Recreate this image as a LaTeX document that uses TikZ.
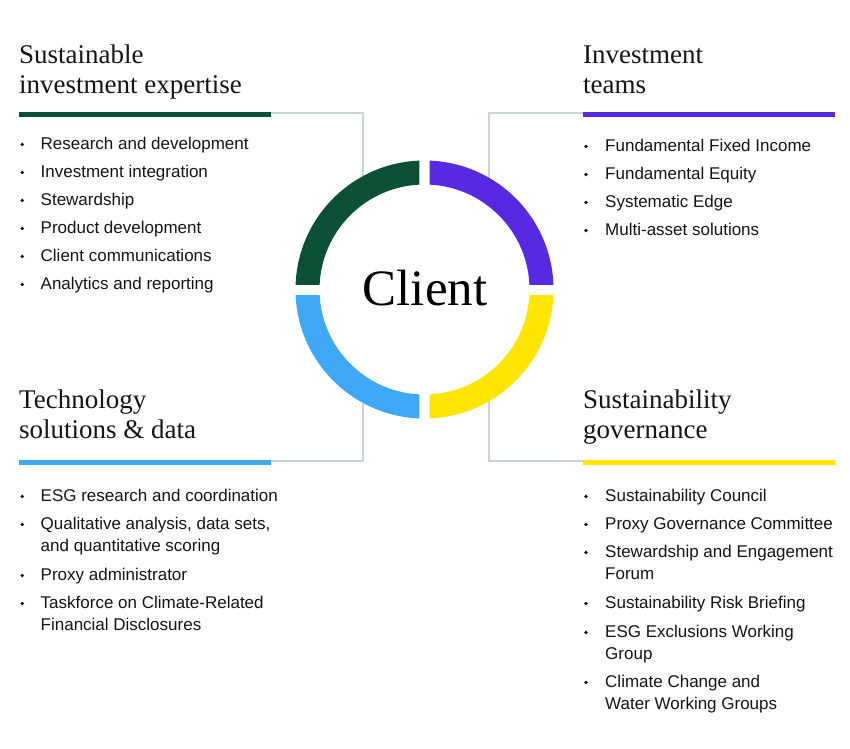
\documentclass[tikz,border=0pt]{standalone}
\usepackage{fontspec}
\setmainfont{Liberation Serif}
\newfontfamily\bodyfont{Liberation Sans}
\definecolor{cgreen}{HTML}{0B5034}
\definecolor{cpurple}{HTML}{5829E2}
\definecolor{cblue}{HTML}{3DA8F5}
\definecolor{cyellow}{HTML}{FFE500}
\definecolor{linegray}{HTML}{C9D5D5}
\definecolor{ink}{HTML}{151515}
\newcommand{\tl}[1]{\begin{tabular}[t]{@{}l@{}}#1\end{tabular}}
\begin{document}
\begin{tikzpicture}[x=1pt,y=-1pt,
  head/.style={anchor=base west, inner sep=0pt, text=ink, font=\fontsize{27}{30}\selectfont},
  item/.style={anchor=base west, inner sep=0pt, text=ink, font=\bodyfont\fontsize{17}{22.5}\selectfont},
  bar/.style={anchor=west, inner sep=0pt, minimum width=252pt, minimum height=5pt},
  conn/.style={draw=linegray, line width=1.3pt},
  dot/.style={circle, fill=ink, inner sep=0pt, minimum size=3.8pt},
  seg/.style={even odd rule}]
\useasboundingbox[fill=white] (0,0) rectangle (850,748);
% bars
\node[bar, fill=cgreen] (barTL) at (19,114.5) {};
\node[bar, fill=cpurple] (barTR) at (583,114.5) {};
\node[bar, fill=cblue] (barBL) at (19,462.5) {};
\node[bar, fill=cyellow] (barBR) at (583,462.5) {};
% connectors
\coordinate (cTL) at (363,113);
\coordinate (cBL) at (363,461);
\coordinate (cTR) at (489,113);
\coordinate (cBR) at (489,461);
\draw[conn] (barTL.east |- cTL) -- (cTL) -- (cBL) -- (barBL.east |- cBL);
\draw[conn] (barTR.west |- cTR) -- (cTR) -- (cBR) -- (barBR.west |- cBR);
% ring
\def\cx{424.5}\def\cy{289.5}
\fill[white] (\cx,\cy) circle[radius=129pt];
\begin{scope}
\clip (\cx-5.2,\cy-5.5) rectangle (\cx-200,\cy-200);
\fill[cgreen,seg] (\cx,\cy) circle[radius=129pt] (\cx,\cy) circle[radius=105pt];
\end{scope}
\begin{scope}
\clip (\cx+5.2,\cy-5.5) rectangle (\cx+200,\cy-200);
\fill[cpurple,seg] (\cx,\cy) circle[radius=129pt] (\cx,\cy) circle[radius=105pt];
\end{scope}
\begin{scope}
\clip (\cx-5.2,\cy+5.5) rectangle (\cx-200,\cy+200);
\fill[cblue,seg] (\cx,\cy) circle[radius=129pt] (\cx,\cy) circle[radius=105pt];
\end{scope}
\begin{scope}
\clip (\cx+5.2,\cy+5.5) rectangle (\cx+200,\cy+200);
\fill[cyellow,seg] (\cx,\cy) circle[radius=129pt] (\cx,\cy) circle[radius=105pt];
\end{scope}
\node[anchor=base, inner sep=0pt, text=black, font=\fontsize{51}{55}\selectfont] (client) at (425,305) {Client};
% headings
\node[head] (hTL) at (19,63) {\tl{Sustainable\\investment expertise}};
\node[head] (hTR) at (583,63) {\tl{Investment\\teams}};
\node[head] (hBL) at (19,408) {\tl{Technology\\solutions \& data}};
\node[head] (hBR) at (583,408) {\tl{Sustainability\\governance}};
% top-left list
\foreach \t/\y [count=\i] in {Research and development/149, Investment integration/177, Stewardship/205, Product development/233, Client communications/261, Analytics and reporting/289}{
  \node[item] (tl\i) at (40.5,\y) {\t};
  \node[dot] (tld\i) at (22.3,\y-4.5) {};
}
% top-right list
\foreach \t/\y [count=\i] in {Fundamental Fixed Income/151, Fundamental Equity/179, Systematic Edge/207, Multi-asset solutions/235}{
  \node[item] (tr\i) at (605,\y) {\t};
  \node[dot] (trd\i) at (586,\y-4.5) {};
}
% bottom-left list
\node[item] (bl1) at (40.5,501) {\tl{ESG research and coordination}};
\node[item] (bl2) at (40.5,529) {\tl{Qualitative analysis, data sets,\\and quantitative scoring}};
\node[item] (bl3) at (40.5,580) {\tl{Proxy administrator}};
\node[item] (bl4) at (40.5,608) {\tl{Taskforce on Climate-Related\\Financial Disclosures}};
\foreach \y [count=\i] in {501,529,580,608}{
  \node[dot] (bld\i) at (22.3,\y-4.5) {};
}
% bottom-right list
\node[item] (br1) at (605,501) {\tl{Sustainability Council}};
\node[item] (br2) at (605,529) {\tl{Proxy Governance Committee}};
\node[item] (br3) at (605,557) {\tl{Stewardship and Engagement\\Forum}};
\node[item] (br4) at (605,608) {\tl{Sustainability Risk Briefing}};
\node[item] (br5) at (605,637) {\tl{ESG Exclusions Working\\Group}};
\node[item] (br6) at (605,687) {\tl{Climate Change and\\Water Working Groups}};
\foreach \y [count=\i] in {501,529,557,608,637,687}{
  \node[dot] (brd\i) at (586,\y-4.5) {};
}
\end{tikzpicture}
\end{document}
